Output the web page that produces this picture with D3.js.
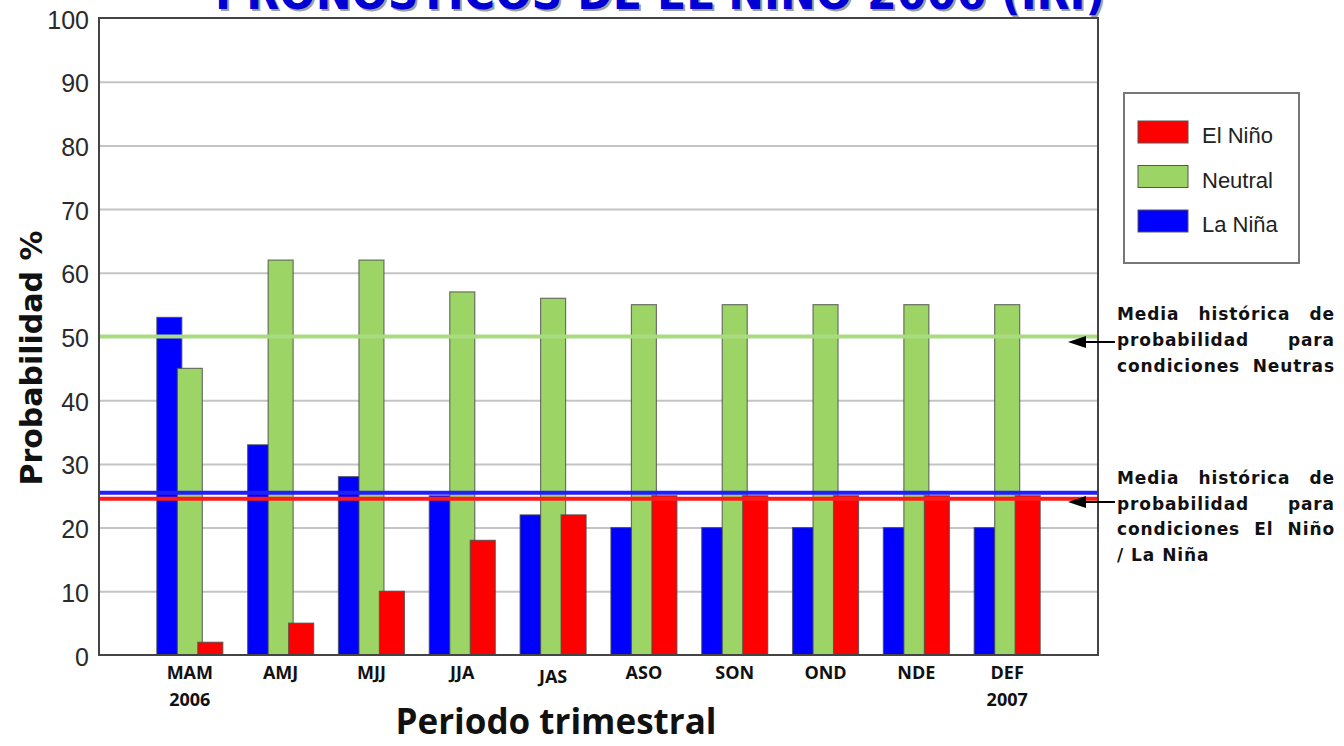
<!DOCTYPE html>
<html lang="es">
<head>
<meta charset="UTF-8">
<style>
  body { margin: 0; background: #fff; }
  svg { display: block; }
</style>
</head>
<body>
<script src="https://cdn.jsdelivr.net/npm/d3@7/dist/d3.min.js"></script>
<script>
// datos
var periodos = ["MAM", "AMJ", "MJJ", "JJA", "JAS", "ASO", "SON", "OND", "NDE", "DEF"];
var anios = ["2006", "", "", "", "", "", "", "", "", "2007"];
var laNina = [53, 33, 28, 25, 22, 20, 20, 20, 20, 20];
var neutral = [45, 62, 62, 57, 56, 55, 55, 55, 55, 55];
var elNino = [2, 5, 10, 18, 22, 25, 25, 25, 25, 25];
var yTicks = [0, 10, 20, 30, 40, 50, 60, 70, 80, 90, 100];
var mediaNeutral = 50;
var mediaNinoNina = 25;

var width = 1344, height = 746;
var plotL = 99, plotR = 1098, plotT = 18, plotB = 655;

var svg = d3.select("body").append("svg")
    .attr("width", width)
    .attr("height", height);

// titulo (cortado arriba, como en la imagen)
var titulo = "PRONÓSTICOS DE EL NIÑO 2006 (IRI)";
svg.append("text")
    .attr("x", 217).attr("y", 11)
    .attr("textLength", 890).attr("lengthAdjust", "spacingAndGlyphs")
    .style("font", "bold 46px 'DejaVu Sans', sans-serif")
    .style("fill", "#a0a0a0")
    .text(titulo);
svg.append("text")
    .attr("x", 215).attr("y", 9)
    .attr("textLength", 890).attr("lengthAdjust", "spacingAndGlyphs")
    .style("font", "bold 46px 'DejaVu Sans', sans-serif")
    .style("fill", "#0000d4")
    .text(titulo);

var x = d3.scalePoint().domain(periodos).range([plotL, plotR]).padding(1);
var y = d3.scaleLinear().domain([0, 100]).range([plotB, plotT]);

// rejilla
svg.append("g")
    .attr("transform", "translate(" + plotL + ",0)")
    .call(d3.axisLeft(y).tickValues(yTicks.slice(1, -1)).tickSize(-(plotR - plotL)).tickFormat(""))
    .call(function(g) { g.select(".domain").remove(); })
    .selectAll("line")
    .attr("stroke", "#c4c4c4")
    .attr("stroke-width", 2);

// etiquetas eje y
svg.append("g")
    .attr("transform", "translate(" + (plotL - 10) + ",0)")
    .call(d3.axisLeft(y).tickValues(yTicks).tickSize(0).tickPadding(0))
    .call(function(g) { g.select(".domain").remove(); })
    .selectAll("text")
    .attr("dy", "0.4em")
    .style("font", "25px 'Liberation Sans', Arial, sans-serif")
    .style("fill", "#2a2a2a");

// barras
var series = [
    { nombre: "La Niña", valores: laNina, color: "#0000ff" },
    { nombre: "Neutral", valores: neutral, color: "#9cd465" },
    { nombre: "El Niño", valores: elNino, color: "#ff0000" }
];
var barW = 25, paso = 20.5;

series.forEach(function(s, k) {
    svg.append("g").selectAll("rect")
        .data(s.valores)
        .enter().append("rect")
        .attr("x", function(d, i) { return x(periodos[i]) + (k - 1) * paso - barW / 2; })
        .attr("y", function(d) { return y(d); })
        .attr("width", barW)
        .attr("height", function(d) { return y(0) - y(d); })
        .attr("fill", s.color)
        .attr("stroke", "#4a4a4a")
        .attr("stroke-opacity", 0.75)
        .attr("stroke-width", 1.2);
});

// medias historicas
svg.append("line")
    .attr("x1", plotL).attr("x2", plotR)
    .attr("y1", y(mediaNeutral)).attr("y2", y(mediaNeutral))
    .attr("stroke", "#a9dc80").attr("stroke-width", 4);
svg.append("line")
    .attr("x1", plotL).attr("x2", plotR)
    .attr("y1", y(mediaNinoNina) - 3).attr("y2", y(mediaNinoNina) - 3)
    .attr("stroke", "#2020ff").attr("stroke-width", 4);
svg.append("line")
    .attr("x1", plotL).attr("x2", plotR)
    .attr("y1", y(mediaNinoNina) + 3).attr("y2", y(mediaNinoNina) + 3)
    .attr("stroke", "#ff1a1a").attr("stroke-width", 4);

// marco
svg.append("rect")
    .attr("x", plotL).attr("y", plotT)
    .attr("width", plotR - plotL).attr("height", plotB - plotT)
    .attr("fill", "none")
    .attr("stroke", "#444")
    .attr("stroke-width", 2);

// etiquetas eje x
svg.append("g").selectAll("text")
    .data(periodos)
    .enter().append("text")
    .attr("x", function(d) { return x(d); })
    .attr("y", function(d) { return d === "JAS" ? 683 : 679; })
    .attr("text-anchor", "middle")
    .style("font", "bold 18px 'Open Sans', sans-serif")
    .style("fill", "#111")
    .text(function(d) { return d; });

svg.append("g").selectAll("text")
    .data(anios)
    .enter().append("text")
    .attr("x", function(d, i) { return x(periodos[i]); })
    .attr("y", 706)
    .attr("text-anchor", "middle")
    .style("font", "bold 18px 'Open Sans', sans-serif")
    .style("fill", "#111")
    .text(function(d) { return d; });

svg.append("text")
    .attr("x", 556).attr("y", 734)
    .attr("text-anchor", "middle")
    .style("font", "bold 35px 'Open Sans', sans-serif")
    .style("fill", "#111")
    .text("Periodo trimestral");

svg.append("text")
    .attr("transform", "translate(42,358) rotate(-90)")
    .attr("text-anchor", "middle")
    .style("font", "bold 30px 'DejaVu Sans', sans-serif")
    .style("fill", "#111")
    .text("Probabilidad %");

// leyenda
var leyenda = svg.append("g");
leyenda.append("rect")
    .attr("x", 1124).attr("y", 93).attr("width", 175).attr("height", 170)
    .attr("fill", "#fff").attr("stroke", "#777").attr("stroke-width", 2);
var itemsLeyenda = [series[2], series[1], series[0]];
itemsLeyenda.forEach(function(s, i) {
    var yy = 121 + i * 44.5;
    leyenda.append("rect")
        .attr("x", 1138).attr("y", yy).attr("width", 50).attr("height", 22)
        .attr("fill", s.color).attr("stroke", "#555").attr("stroke-width", 1);
    leyenda.append("text")
        .attr("x", 1202).attr("y", yy + 22)
        .style("font", "22px 'Liberation Sans', Arial, sans-serif")
        .style("fill", "#222")
        .text(s.nombre);
});

// anotaciones con flecha
function flecha(yy) {
    svg.append("line")
        .attr("x1", 1084).attr("x2", 1115)
        .attr("y1", yy).attr("y2", yy)
        .attr("stroke", "#000").attr("stroke-width", 2);
    svg.append("path")
        .attr("d", "M1068," + yy + "L1086," + (yy - 6) + "L1086," + (yy + 6) + "Z")
        .attr("fill", "#000");
}

function parrafo(lineas, y0, dy) {
    var x0 = 1117, x1 = 1335;
    lineas.forEach(function(linea, li) {
        var palabras = linea.split(" ");
        var yy = y0 + li * dy;
        var nodos = palabras.map(function(p) {
            return svg.append("text")
                .attr("y", yy)
                .style("font", "bold 17px 'DejaVu Sans', sans-serif")
                .style("letter-spacing", "0.9px")
                .style("fill", "#111")
                .text(p);
        });
        var anchos = nodos.map(function(n) { return n.node().getComputedTextLength(); });
        var total = d3.sum(anchos);
        var ultima = li === lineas.length - 1 && lineas.length > 3;
        var hueco = (ultima || palabras.length < 2) ? 7 : (x1 - x0 - total) / (palabras.length - 1);
        var cx = x0;
        nodos.forEach(function(n, j) {
            n.attr("x", cx);
            cx += anchos[j] + hueco;
        });
    });
}

flecha(342);
parrafo(["Media histórica de", "probabilidad para", "condiciones Neutras"], 320, 26);
flecha(502);
parrafo(["Media histórica de", "probabilidad para", "condiciones El Niño", "/ La Niña"], 484, 25.5);
</script>
</body>
</html>
